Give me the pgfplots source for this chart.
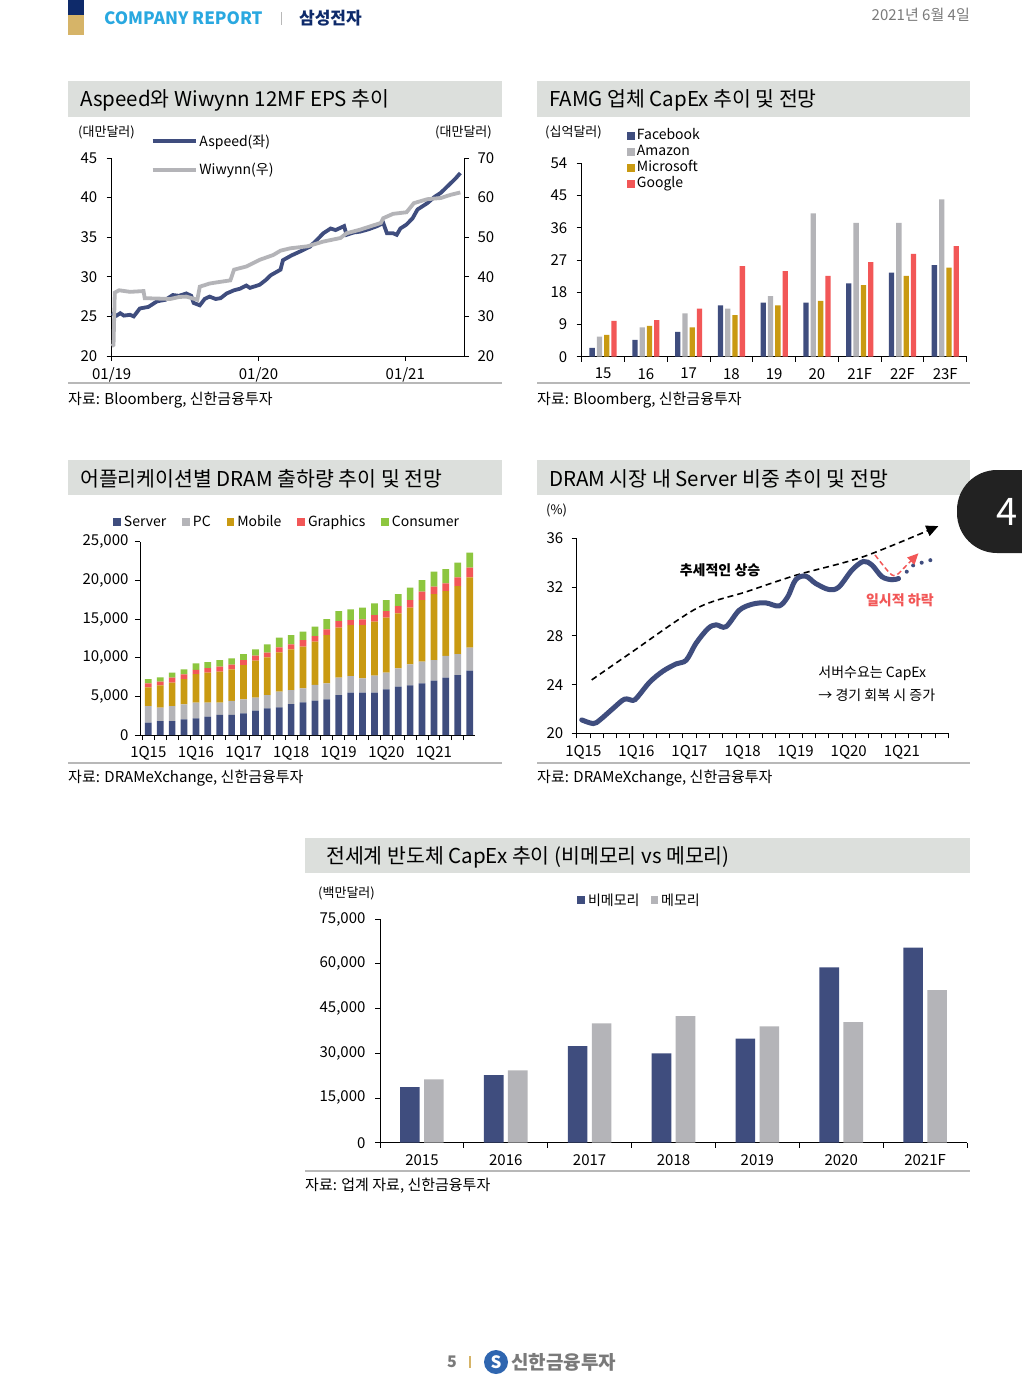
\documentclass[border=0pt]{standalone}
\usepackage{fontspec}
\setmainfont{Noto Sans CJK KR}
\usepackage{pgfplots}
\usepackage{pgfplotstable}
\pgfplotsset{compat=1.18}
\usetikzlibrary{arrows.meta}

\definecolor{navy}{HTML}{3F4D7E}
\definecolor{lgray}{HTML}{B4B4B8}
\definecolor{gold}{HTML}{C99A12}
\definecolor{coral}{HTML}{F25757}
\definecolor{lgreen}{HTML}{8DC63F}
\definecolor{boxgray}{HTML}{DCDFDC}
\definecolor{rulegray}{HTML}{B8B8B8}
\definecolor{cyanhead}{HTML}{29A8E0}
\definecolor{darknavy}{HTML}{0E2A6A}
\definecolor{headgold}{HTML}{D6B468}
\definecolor{textgray}{HTML}{7A7A7A}
\definecolor{tabblack}{HTML}{222222}
\definecolor{logoblue}{HTML}{2F66B0}

\newcommand{\sz}[1]{\fontsize{#1}{#1}\selectfont}

% DRAM shipments by application (stacked)
\pgfplotstableread{
q  S    P    M    G    C
0  1600 2150 2410 520  560
1  1810 1720 2890 480  560
2  1810 1940 3020 640  650
3  2030 1940 3270 600  650
4  2160 2020 3710 520  860
5  2370 1810 3880 600  780
6  2590 1590 4010 650  860
7  2590 1810 4090 600  820
8  2800 1810 4440 650  770
9  3150 1680 4780 650  820
10 3450 1720 4870 610  1070
11 3580 2020 5090 650  1250
12 4010 1810 5260 640  1210
13 4220 1810 5390 860  1080
14 4440 2030 5600 730  1210
15 4610 2070 6250 730  1340
16 5170 2240 6470 860  1290
17 5470 2160 6590 650  1380
18 5470 1860 6890 740  1510
19 5470 2200 6980 870  1510
20 5900 2160 7110 860  1430
21 6250 2370 7110 950  1550
22 6420 2720 7330 990  1590
23 6680 2800 7980 1070 1510
24 7030 2670 8530 950  1940
25 7410 2810 8400 990  1860
26 7760 2710 8800 1120 1890
27 8320 2970 9100 1250 1940
}\dramtable

\pgfplotsset{
  page/.style={
    scale only axis,
    anchor=south west,
    axis line style={black, line width=1pt},
    tick style={black, line width=0.9pt},
    tick align=outside,
    major tick length=5pt,
    minor tick length=5pt,
    ticklabel style={font=\sz{15}},
    xticklabel style={yshift=-3pt},
    /pgf/number format/assume math mode=true,
    /pgf/number format/1000 sep={,},
    scaled y ticks=false,
    clip=false,
    legend cell align=left,
    axis y line*=left,
    axis x line*=bottom,
  },
  sq/.style={legend image code/.code={\fill[#1] (0pt,-3.8pt) rectangle (7.6pt,3.8pt);}},
}

\begin{document}
\begin{tikzpicture}
\begin{scope}[x=1pt,y=-1pt]
\useasboundingbox (0,0) rectangle (1021,1385);
\fill[white] (0,0) rectangle (1021,1385);
% header
\fill[darknavy] (68,0) rectangle (84,15);
\fill[headgold] (68,15) rectangle (84,35);
\node[anchor=west, inner sep=0, text=cyanhead, font=\bfseries\sz{17}] at (104,18) {COMPANY REPORT};
\draw[rulegray, line width=1pt] (281,12) -- (281,25);
\node[anchor=west, inner sep=0, text=darknavy, font=\bfseries\sz{17}] at (299,18) {삼성전자};
\node[anchor=east, inner sep=0, text=textgray, font=\sz{15}] at (970,15) {2021년 6월 4일};
% title boxes
\fill[boxgray] (68,81) rectangle (502,117);
\fill[boxgray] (537,81) rectangle (970,117);
\fill[boxgray] (68,460) rectangle (502,495);
\fill[boxgray] (537,460) rectangle (970,495);
\fill[boxgray] (305,838) rectangle (970,873);
\node[anchor=west, inner sep=0, font=\sz{20.5}] at (80,100) {Aspeed와 Wiwynn 12MF EPS 추이};
\node[anchor=west, inner sep=0, font=\sz{20.5}] at (549,100) {FAMG 업체 CapEx 추이 및 전망};
\node[anchor=west, inner sep=0, font=\sz{20.5}] at (80,479) {어플리케이션별 DRAM 출하량 추이 및 전망};
\node[anchor=west, inner sep=0, font=\sz{20.5}] at (549,479) {DRAM 시장 내 Server 비중 추이 및 전망};
\node[anchor=west, inner sep=0, font=\sz{20.5}] at (326,857) {전세계 반도체 CapEx 추이 (비메모리 vs 메모리)};
% rules and sources
\draw[rulegray, line width=1.5pt] (68,383) -- (502,383);
\draw[rulegray, line width=1.5pt] (537,383) -- (970,383);
\draw[rulegray, line width=1.5pt] (68,763) -- (502,763);
\draw[rulegray, line width=1.5pt] (537,763) -- (970,763);
\draw[rulegray, line width=1.5pt] (305,1171) -- (970,1171);
\node[anchor=west, inner sep=0, font=\sz{15}] at (68,400) {자료: Bloomberg, 신한금융투자};
\node[anchor=west, inner sep=0, font=\sz{15}] at (537,400) {자료: Bloomberg, 신한금융투자};
\node[anchor=west, inner sep=0, font=\sz{15}] at (68,778) {자료: DRAMeXchange, 신한금융투자};
\node[anchor=west, inner sep=0, font=\sz{15}] at (537,778) {자료: DRAMeXchange, 신한금융투자};
\node[anchor=west, inner sep=0, font=\sz{15}] at (305,1186) {자료: 업계 자료, 신한금융투자};
% unit labels
\node[anchor=west, inner sep=0, font=\sz{13}] at (78,132) {(대만달러)};
\node[anchor=west, inner sep=0, font=\sz{13}] at (435,132) {(대만달러)};
\node[anchor=west, inner sep=0, font=\sz{13}] at (545,132) {(십억달러)};
\node[anchor=west, inner sep=0, font=\sz{13}] at (546,510) {(\%)};
\node[anchor=west, inner sep=0, font=\sz{13}] at (318,893) {(백만달러)};
% side tab
\fill[tabblack, rounded corners=40pt] (957,470) rectangle (1100,553);
\node[text=white, font=\sz{38}] at (1007,512) {4};
% footer
\node[anchor=center, text=textgray, font=\bfseries\sz{16}] at (452,1362) {5};
\draw[headgold, line width=2pt] (470,1356) -- (470,1368);
\fill[logoblue] (496,1362) circle (12);
\node[text=white, font=\bfseries\sz{17}] at (496,1362) {S};
\node[anchor=west, inner sep=0, text=textgray, font=\bfseries\sz{19}] at (511,1362) {신한금융투자};
\end{scope}

% ---------- Aspeed / Wiwynn ----------
\begin{axis}[page, at={(111.7pt,-356pt)}, width=352.3pt, height=198pt,
  xmin=0, xmax=28.8, ymin=20, ymax=45,
  xtick={0,12,24}, xticklabels={01/19,01/20,01/21},
  ytick={20,25,...,45},
  yticklabel style={xshift=-6pt},
  legend style={at={(0.11,1.13)}, anchor=north west, draw=none, fill=none,
    font=\sz{14}, row sep=12pt, inner sep=0pt},
  legend image code/.code={\draw[#1] (0pt,0pt) -- (43pt,0pt);},
]
\addplot[navy, line width=3.8pt] coordinates {
(0,25.4)(0.4,25.1)(0.7,25.4)(1.0,25.1)(1.5,25.2)(1.8,25.0)(2.3,26.0)(3.0,26.2)
(3.7,26.9)(4.4,27.1)(5.0,27.7)(5.5,27.6)(6.1,27.9)(6.5,27.6)(6.7,26.7)(7.2,26.4)
(7.6,27.2)(8.0,27.5)(8.5,27.2)(8.9,27.3)(9.4,27.9)(10.0,28.3)(10.5,28.5)(11.0,28.9)
(11.3,28.6)(12.1,29.0)(12.6,29.6)(13.0,30.2)(13.8,30.9)(14.0,32.1)(14.7,32.7)
(15.4,33.2)(16.2,33.8)(16.8,34.7)(17.3,35.5)(17.9,36.1)(18.3,35.9)(19.0,36.4)
(19.2,35.3)(19.8,35.6)(20.3,35.7)(21.0,36.0)(21.7,36.4)(22.2,36.8)(22.5,35.5)
(23.0,35.5)(23.3,35.3)(23.6,36.1)(24.1,36.6)(24.6,37.4)(25.0,38.5)(25.8,39.3)
(26.4,40.1)(26.9,40.6)(27.3,41.2)(27.7,41.8)(28.1,42.4)(28.5,43.1)};
\addlegendentry{Aspeed(좌)}
\addlegendimage{lgray, line width=3.8pt}
\addlegendentry{Wiwynn(우)}
\end{axis}
\begin{axis}[page, at={(111.7pt,-356pt)}, width=352.3pt, height=198pt,
  axis y line*=right, axis x line=none,
  xmin=0, xmax=28.8, ymin=20, ymax=70,
  ytick={20,30,...,70},
  yticklabel style={xshift=5pt},
]
\addplot[lgray, line width=3.8pt] coordinates {
(0,22.5)(0.15,22.8)(0.25,36.0)(0.6,36.6)(1.5,36.2)(2.6,36.4)(2.7,34.6)(3.8,34.5)
(4.8,34.4)(5.5,34.9)(6.1,35.0)(7.0,34.2)(7.2,37.5)(8.0,38.3)(8.6,38.6)(9.7,39.1)
(10.0,41.8)(11.0,42.6)(12.1,44.3)(13.2,45.5)(13.8,46.6)(14.6,47.2)(16.0,47.7)
(17.3,48.9)(18.7,49.8)(19.2,51.0)(20.3,51.9)(21.1,52.7)(22.0,53.6)(22.2,54.8)
(23.0,55.9)(24.1,56.3)(24.7,58.6)(25.8,59.6)(26.9,59.9)(27.7,60.7)(28.5,61.3)};
\end{axis}

% ---------- FAMG CapEx ----------
\begin{axis}[page, at={(581.7pt,-356.7pt)}, width=385pt, height=193.4pt,
  ybar=2pt, bar width=5.3pt,
  xmin=-0.5, xmax=8.5, ymin=0, ymax=54,
  xtick={0,...,8}, xticklabels={15,16,17,18,19,20,21F,22F,23F},
  major x tick style={draw=none}, minor xtick={-0.5,0.5,...,8.5},
  ytick={0,9,...,54},
  yticklabel style={xshift=-6pt},
  legend style={at={(0.118,1.185)}, anchor=north west, draw=none, fill=none,
    font=\sz{14}, row sep=0pt, inner sep=0pt,
    nodes={inner xsep=2pt, inner ysep=1pt, text height=11pt, text depth=3pt}},
]
\addplot[fill=navy, draw=none, sq=navy] coordinates {(0,2.5)(1,4.7)(2,6.9)(3,14.3)(4,15.1)(5,15.1)(6,20.5)(7,23.5)(8,25.6)};
\addlegendentry{Facebook}
\addplot[fill=lgray, draw=none, sq=lgray] coordinates {(0,5.6)(1,8.2)(2,12.1)(3,13.4)(4,16.9)(5,40.0)(6,37.4)(7,37.4)(8,43.9)};
\addlegendentry{Amazon}
\addplot[fill=gold, draw=none, sq=gold] coordinates {(0,6.1)(1,8.6)(2,8.2)(3,11.6)(4,14.3)(5,15.6)(6,20.0)(7,22.6)(8,24.9)};
\addlegendentry{Microsoft}
\addplot[fill=coral, draw=none, sq=coral] coordinates {(0,10.0)(1,10.2)(2,13.4)(3,25.3)(4,23.9)(5,22.6)(6,26.4)(7,28.7)(8,30.9)};
\addlegendentry{Google}
\end{axis}

% ---------- DRAM shipments ----------
\begin{axis}[page, at={(140pt,-735pt)}, width=335pt, height=193.3pt,
  ybar stacked, bar width=6.7pt,
  xmin=-0.7, xmax=27.45, ymin=0, ymax=25000,
  xtick={0,4,...,24}, xticklabels={1Q15,1Q16,1Q17,1Q18,1Q19,1Q20,1Q21},
  major x tick style={draw=none}, minor xtick={-0.5,0.5,...,27.5},
  ytick={0,5000,...,25000},
  yticklabel style={/pgf/number format/fixed, xshift=-3pt},
  legend columns=-1,
  legend style={at={(-0.08,1.102)}, anchor=west, draw=none, fill=none,
    font=\sz{14}, inner sep=0pt,
    /tikz/every even column/.append style={column sep=13pt},
    nodes={inner xsep=3pt, inner ysep=1.5pt}},
]
\addplot[fill=navy, draw=none, sq=navy] table[x=q, y=S] {\dramtable};
\addlegendentry{Server}
\addplot[fill=lgray, draw=none, sq=lgray] table[x=q, y=P] {\dramtable};
\addlegendentry{PC}
\addplot[fill=gold, draw=none, sq=gold] table[x=q, y=M] {\dramtable};
\addlegendentry{Mobile}
\addplot[fill=coral, draw=none, sq=coral] table[x=q, y=G] {\dramtable};
\addlegendentry{Graphics}
\addplot[fill=lgreen, draw=none, sq=lgreen] table[x=q, y=C] {\dramtable};
\addlegendentry{Consumer}
\end{axis}

% ---------- DRAM server share ----------
\begin{axis}[page, at={(576.7pt,-733.3pt)}, width=371.6pt, height=195pt,
  xmin=-0.5, xmax=27.5, ymin=20, ymax=36,
  xtick={0,4,...,24}, xticklabels={1Q15,1Q16,1Q17,1Q18,1Q19,1Q20,1Q21},
  major x tick style={draw=none}, minor xtick={-0.5,0.5,...,27.5},
  ytick={20,24,...,36},
  yticklabel style={xshift=-5pt},
]
\addplot[black, line width=1.6pt, dash pattern=on 6pt off 4pt, smooth,
  -{Triangle[length=12pt,width=11pt]}] coordinates {
(0.63,24.38)(3.52,26.56)(8.55,30.26)(12.3,31.62)(16.08,32.99)(21.1,34.49)(26.75,37.0)};
\addplot[navy, line width=5pt, smooth, tension=0.55, line cap=round] coordinates {
(-0.12,21.1)(0.75,20.8)(1.25,21.1)(2.25,22.05)(3.1,22.8)(3.75,22.7)(4.1,23.0)
(5.0,24.2)(6.0,25.1)(7.0,25.7)(7.75,26.0)(8.5,27.4)(9.4,28.6)(10.0,28.9)
(10.75,28.75)(11.75,30.1)(12.75,30.6)(13.75,30.7)(14.75,30.45)(15.4,31.2)
(16.0,32.6)(16.75,32.9)(17.5,32.3)(18.5,31.8)(19.25,32.0)(20.25,33.4)(21.1,34.1)
(21.75,33.8)(22.5,32.85)(23.25,32.6)(23.75,32.7)};
\addplot[navy, line width=4pt, line cap=round, dash pattern=on 0pt off 9pt] coordinates {
(24.37,33.26)(24.87,33.8)(25.75,34.08)(26.63,34.36)};
\addplot[coral, line width=1.5pt, dash pattern=on 5pt off 3pt, smooth,
  -{Triangle[length=11pt,width=10pt]}] coordinates {
(21.98,34.63)(23.1,33.13)(23.6,32.99)(24.37,33.8)(25.25,34.77)};
\node[font=\bfseries\sz{14}] at (axis cs:10.3,33.4) {추세적인 상승};
\node[text=coral, font=\bfseries\sz{14}] at (axis cs:23.85,30.95) {일시적 하락};
\node[anchor=west, inner sep=0, font=\sz{14}] at (axis cs:17.7,24.95) {서버수요는 CapEx};
\node[anchor=west, inner sep=0, font=\sz{14}] at (axis cs:17.7,23.15) {→ 경기 회복 시 증가};
\end{axis}

% ---------- Semiconductor CapEx ----------
\begin{axis}[page, at={(380pt,-1142.7pt)}, width=587pt, height=223.7pt,
  ybar=4.4pt, bar width=19.6pt,
  xmin=-0.5, xmax=6.5, ymin=0, ymax=75000,
  xtick={0,...,6}, xticklabels={2015,2016,2017,2018,2019,2020,2021F},
  major x tick style={draw=none}, minor xtick={-0.5,0.5,...,6.5},
  ytick={0,15000,...,75000},
  yticklabel style={/pgf/number format/fixed, xshift=-6pt},
  legend columns=-1,
  legend style={at={(0.336,1.085)}, anchor=west, draw=none, fill=none,
    font=\sz{14}, inner sep=0pt,
    /tikz/every even column/.append style={column sep=8pt},
    nodes={inner xsep=3pt, inner ysep=1.5pt}},
]
\addplot[fill=navy, draw=none, sq=navy] coordinates {(0,18670)(1,22690)(2,32410)(3,29960)(4,34870)(5,58790)(6,65390)};
\addlegendentry{비메모리}
\addplot[fill=lgray, draw=none, sq=lgray] coordinates {(0,21240)(1,24250)(2,40010)(3,42470)(4,39010)(5,40460)(6,51190)};
\addlegendentry{메모리}
\end{axis}
\end{tikzpicture}
\end{document}
